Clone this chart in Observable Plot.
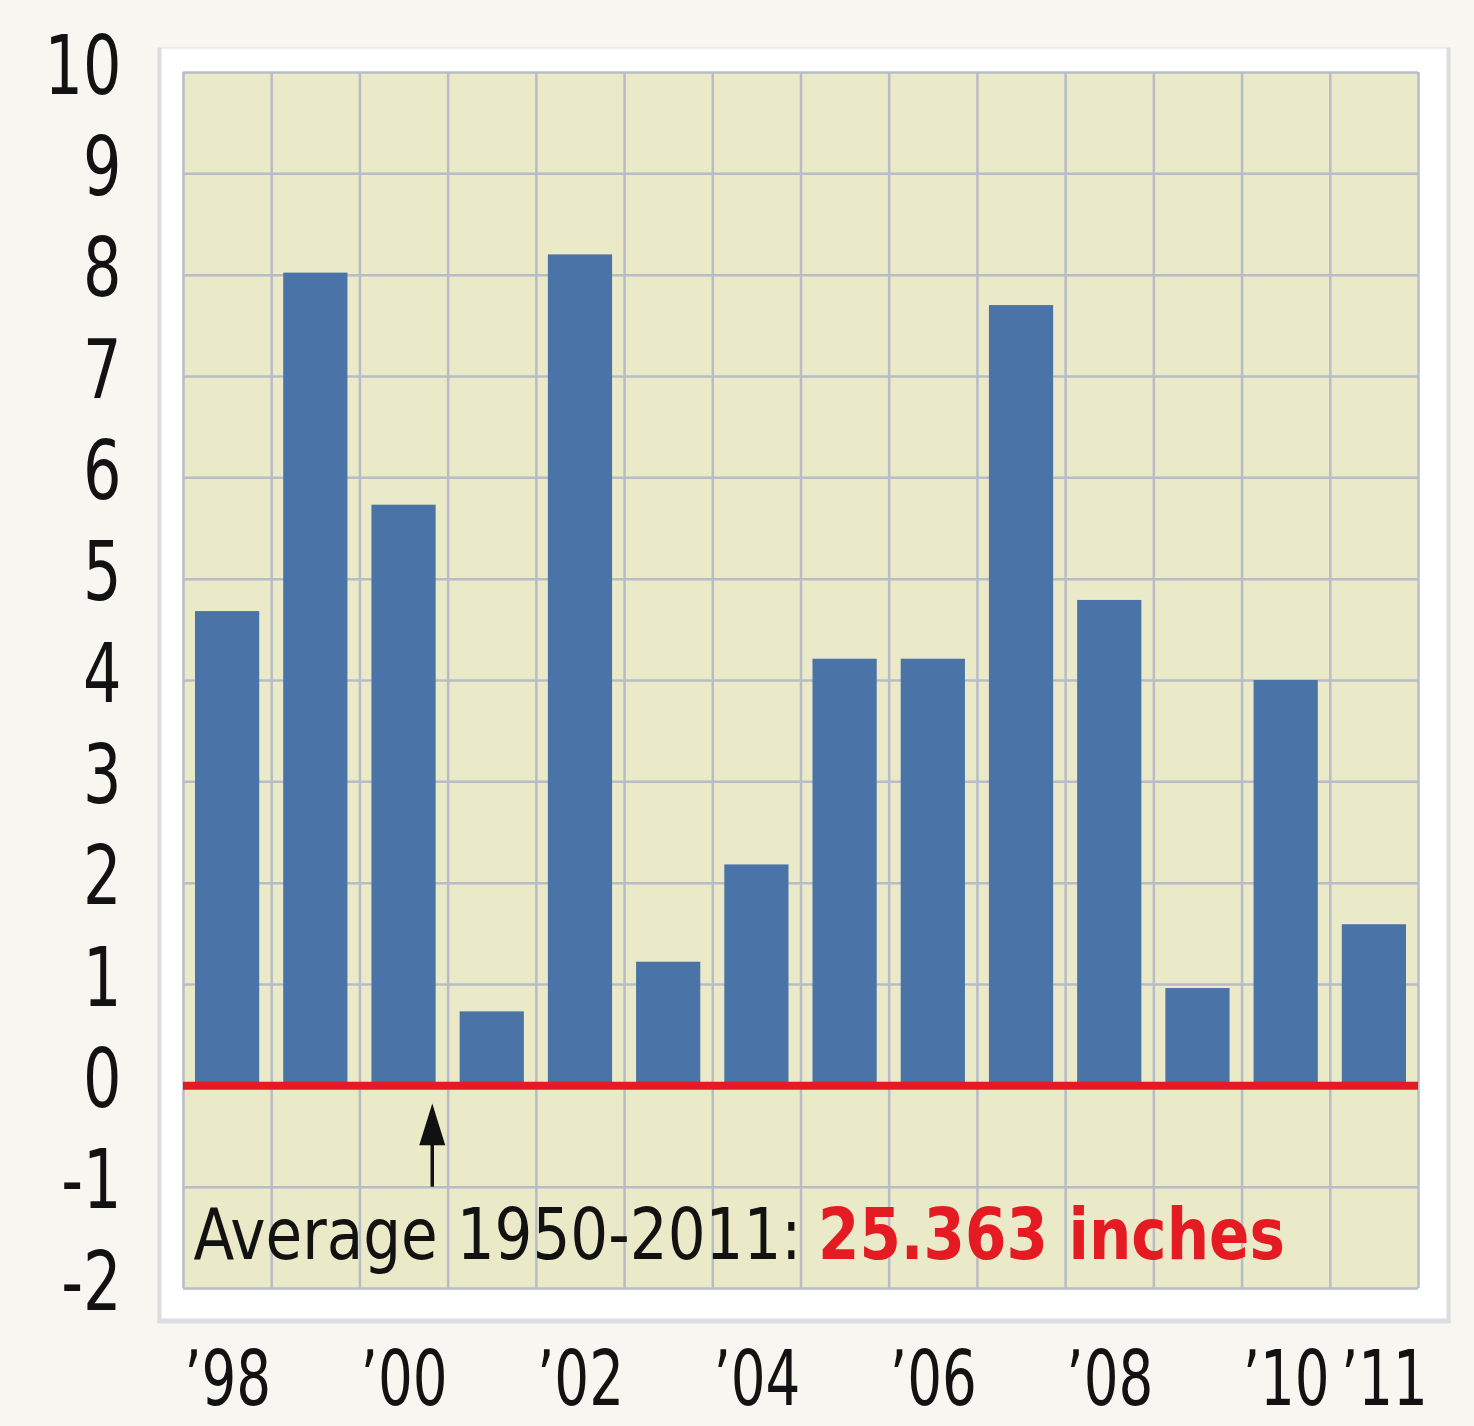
<!DOCTYPE html>
<html><head><meta charset="utf-8">
<script src="https://cdn.jsdelivr.net/npm/d3@7"></script>
<script src="https://cdn.jsdelivr.net/npm/@observablehq/plot@0.6"></script>
<style>
html,body{margin:0;padding:0;background:#f7f6f1;}
</style></head><body><div id="chart"></div>
<script>
const years = [1998, 1999, 2000, 2001, 2002, 2003, 2004, 2005, 2006, 2007, 2008, 2009, 2010, 2011];
const values = [4.68, 8.02, 5.73, 0.73, 8.2, 1.22, 2.18, 4.21, 4.21, 7.7, 4.79, 0.96, 4.0, 1.59];
const tickYears = [1998, 2000, 2002, 2004, 2006, 2008, 2010, 2011];
const tickLabels = ["’98", "’00", "’02", "’04", "’06", "’08", "’10", "’11"];
const yTicks = [-2, -1, 0, 1, 2, 3, 4, 5, 6, 7, 8, 9, 10];
const avgLabel = "Average 1950-2011:";
const avgValue = "25.363 inches";
const arrowYear = 2000.32;

const data = years.map((y, i) => ({year: y, value: values[i]}));
const boundaries = years.map(y => y - 0.5).concat([years[years.length - 1] + 0.5]);
const fmtX = d => tickLabels[tickYears.indexOf(d)];

const FONT = "'Liberation Sans Narrow','DejaVu Sans Condensed','Roboto Condensed',sans-serif";
const GRID = "#b8bcc6";

// tall, narrow arrowhead symbol
const arrowHead = {
  draw(context, size) {
    const s = Math.sqrt(size / Math.PI);
    context.moveTo(0, -1.6 * s);
    context.lineTo(s, 1.6 * s);
    context.lineTo(-s, 1.6 * s);
    context.closePath();
  }
};

const chart = Plot.plot({
  width: 1474,
  height: 1426,
  marginLeft: 183,
  marginRight: 56,
  marginTop: 72,
  marginBottom: 138,
  style: {fontFamily: FONT, background: "transparent", color: "#121212"},
  x: {domain: [boundaries[0], boundaries[boundaries.length - 1]], label: null},
  y: {domain: [-2, 10], label: null},
  marks: [
    Plot.frame({fill: "#dcdde0", stroke: null, insetLeft: -26, insetTop: -25, insetRight: -32, insetBottom: -35}),
    Plot.frame({fill: "#ffffff", stroke: null, insetLeft: -22, insetTop: -24, insetRight: -28, insetBottom: -30}),
    Plot.frame({fill: "#eae9c8", stroke: null}),
    Plot.ruleX(boundaries, {stroke: GRID, strokeWidth: 2.5}),
    Plot.ruleY(yTicks, {stroke: GRID, strokeWidth: 2.5}),
    Plot.rectY(data, {x1: d => d.year - 0.5, x2: d => d.year + 0.5, y1: 0, y2: "value", fill: "#4a73a8", insetLeft: 12, insetRight: 12}),
    Plot.ruleY([0], {stroke: "#e41b23", strokeWidth: 8}),
    Plot.ruleX([arrowYear], {y1: -1.0, y2: -0.5, stroke: "#111", strokeWidth: 3.5}),
    Plot.dot([arrowYear], {x: d => d, y: -0.38, symbol: arrowHead, r: 13, fill: "#111", stroke: null}),
    Plot.text([avgLabel], {x: boundaries[0], y: -1.5, text: d => d, textAnchor: "start", dx: 10, dy: -2, fontSize: 72, fill: "#121212"}),
    Plot.axisY({ticks: yTicks, tickFormat: d => String(d), tickSize: 0, tickPadding: 62, fontSize: 82, dy: -5, label: null}),
    Plot.axisX({ticks: tickYears.slice(0, -1), tickFormat: fmtX, tickSize: 0, tickPadding: 63, fontSize: 76, label: null}),
    Plot.axisX({ticks: tickYears.slice(-1), tickFormat: fmtX, tickSize: 0, tickPadding: 63, fontSize: 76, dx: 10, label: null})
  ]
});

function condense(sel, s) {
  sel.each(function() {
    const tr = this.getAttribute("transform") || "";
    this.setAttribute("transform", tr + ` scale(${s},1)`);
  });
}

const svg = d3.select(chart);
const ann = svg.selectAll("text").filter(function() { return this.textContent === avgLabel; });
ann.append("tspan").attr("dx", 18).attr("fill", "#e41b23").attr("font-weight", "bold").text(avgValue);
condense(ann, 0.92);
condense(svg.selectAll("g[aria-label='y-axis tick label'] text"), 0.82);
condense(svg.selectAll("g[aria-label='x-axis tick label'] text"), 0.8);

document.getElementById("chart").appendChild(chart);
</script>
</body></html>
